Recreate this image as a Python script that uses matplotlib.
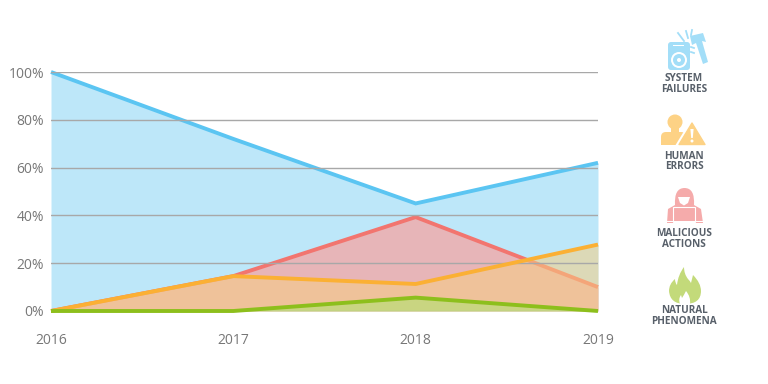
import matplotlib
matplotlib.use('Agg')
import matplotlib.pyplot as plt
from matplotlib.patches import Circle, FancyBboxPatch, Polygon, PathPatch, Rectangle
from matplotlib.path import Path

plt.rcParams['font.family'] = ['Open Sans', 'DejaVu Sans']

years = [2016, 2017, 2018, 2019]
system_failures = [100, 72, 45, 62]
malicious_actions = [0, 14.6, 39.3, 10]
human_errors = [0, 14.6, 11.3, 27.8]
natural_phenomena = [0, 0, 5.6, 0]
y_ticks = [0, 20, 40, 60, 80, 100]
y_labels = ['0%', '20%', '40%', '60%', '80%', '100%']

W, H = 768, 384
LEFT, RIGHT, TOP, BOTTOM = 51, 598, 72, 311

fig = plt.figure(figsize=(W / 100, H / 100), dpi=100)
ax = fig.add_axes([LEFT / W, 1 - BOTTOM / H, (RIGHT - LEFT) / W, (BOTTOM - TOP) / H])
ax.set_xlim(years[0], years[-1])
ax.set_ylim(0, 100)

for spine in ax.spines.values():
    spine.set_visible(False)

ax.set_xticks(years)
ax.set_yticks(y_ticks)
ax.set_yticklabels(y_labels)
ax.tick_params(length=0, labelsize=10, labelcolor='#777777')
ax.tick_params(axis='x', pad=16)
ax.tick_params(axis='y', pad=5)
ax.yaxis.grid(True, color='#a8a8a8', linewidth=1)
ax.yaxis.set_zorder(1.5)

# values, line colour, fill colour, fill alpha, fill zorder, line zorder
# the grid sits at 1.5, over the first three fills
series = [
    (system_failures, '#5bc5f2', '#5bc5f2', 0.4, 1.0, 1.1),
    (malicious_actions, '#f2756f', '#faa19d', 0.7, 1.2, 1.3),
    (human_errors, '#fbb034', '#f7ce82', 0.55, 1.4, 1.6),
    (natural_phenomena, '#8dbf1c', '#a4e96a', 0.5, 1.7, 1.8),
]
for values, color, fill, alpha, z_fill, z_line in series:
    ax.fill_between(years, values, 0, color=fill, alpha=alpha, linewidth=0, zorder=z_fill)
    ax.plot(years, values, color=color, linewidth=2.8, clip_on=False, zorder=z_line,
            solid_capstyle='butt', solid_joinstyle='miter')

# legend icons, drawn in pixel coordinates
ic = fig.add_axes([0, 0, 1, 1], facecolor='none')
ic.set_xlim(0, W)
ic.set_ylim(H, 0)
ic.axis('off')

BLUE, ORANGE, PINK, GREEN = '#a3def8', '#fdd285', '#f5abab', '#c3da7a'

# system failures: drive and hammer
ic.add_patch(FancyBboxPatch((668, 42), 22, 28, boxstyle='round,pad=0,rounding_size=3',
                            fc=BLUE, ec='none'))
ic.add_patch(Circle((679, 60), 8, fc='white', ec='none'))
ic.add_patch(Circle((679, 60), 6, fc=BLUE, ec='none'))
ic.add_patch(Circle((679, 60), 2, fc='white', ec='none'))
ic.add_patch(Rectangle((673, 45), 11, 1.2, fc='white', ec='none'))
ic.add_patch(Polygon([(690, 36), (703, 33), (706, 42), (702, 41), (708, 62), (703, 64),
                      (696, 43), (692, 45)], fc=BLUE, ec='none'))
for x0, y0, x1, y1 in [(684, 41, 678, 33), (688, 38, 686, 31), (691, 35, 692, 30),
                       (691, 47, 694, 48), (691, 52, 694, 53)]:
    ic.plot([x0, x1], [y0, y1], color=BLUE, lw=1.3)

# human errors: person and warning sign
ic.add_patch(Circle((675, 122), 7.5, fc=ORANGE, ec='none'))
ic.add_patch(Rectangle((671, 126), 8, 8, fc=ORANGE, ec='none'))
ic.add_patch(FancyBboxPatch((661, 132), 25, 13, boxstyle='round,pad=0,rounding_size=5',
                            fc=ORANGE, ec='none'))
ic.add_patch(Rectangle((661, 140), 25, 5, fc=ORANGE, ec='none'))
ic.add_patch(Polygon([(692, 122), (706, 145), (678, 145)], fc='white', ec='white', lw=3))
ic.add_patch(Polygon([(692, 123), (705, 144.5), (679, 144.5)], fc=ORANGE, ec=ORANGE, lw=1,
                     joinstyle='round'))
ic.add_patch(Polygon([(690.4, 129), (693.6, 129), (692.8, 138), (691.2, 138)], fc='white', ec='none'))
ic.add_patch(Circle((692, 141), 1.5, fc='white', ec='none'))

# malicious actions: hooded figure at a laptop
hood = Path([(667, 223), (668, 209), (675, 205), (674, 188), (684.5, 188), (695, 188),
             (694, 205), (701, 209), (703, 223), (667, 223)],
            [Path.MOVETO, Path.LINETO, Path.LINETO, Path.CURVE3, Path.CURVE3,
             Path.CURVE3, Path.CURVE3, Path.LINETO, Path.LINETO, Path.CLOSEPOLY])
ic.add_patch(PathPatch(hood, fc=PINK, ec='none'))
ic.add_patch(Polygon([(678, 197), (690, 197), (688, 203), (684, 205.5), (680, 203)],
                     fc='white', ec='none'))
ic.add_patch(Rectangle((673, 207), 22, 15, fc='none', ec='white', lw=0.8))
ic.add_patch(Rectangle((667, 220.5), 36, 1, fc='white', ec='none'))

# natural phenomena: flame
flame = Path([(685, 304), (670, 304), (669, 291), (669, 284), (675, 279), (675, 283), (677, 285),
              (678, 275), (684, 267), (684, 274), (688, 279), (690, 281), (691, 283),
              (692, 279), (693, 275), (701, 283), (701, 291), (701, 304), (685, 304), (685, 304)],
             [Path.MOVETO] + [Path.CURVE3] * 18 + [Path.CLOSEPOLY])
ic.add_patch(PathPatch(flame, fc=GREEN, ec='none'))
inner = Path([(680, 304), (678, 299), (681, 295), (682, 298), (684, 295), (686, 291),
              (691, 297), (690, 304), (680, 304)],
             [Path.MOVETO, Path.CURVE3, Path.CURVE3, Path.LINETO, Path.CURVE3, Path.CURVE3,
              Path.CURVE3, Path.CURVE3, Path.CLOSEPOLY])
ic.add_patch(PathPatch(inner, fc='white', ec='none'))

legend_labels = [
    ('SYSTEM\nFAILURES', 684, 84),
    ('HUMAN\nERRORS', 684, 161.5),
    ('MALICIOUS\nACTIONS', 684, 239),
    ('NATURAL\nPHENOMENA', 684, 316),
]
for label, x, y in legend_labels:
    ic.text(x, y, label, ha='center', va='center', fontsize=7.2, fontweight='bold',
            color='#58606a', linespacing=0.95)

fig.savefig('out.png', dpi=100)
